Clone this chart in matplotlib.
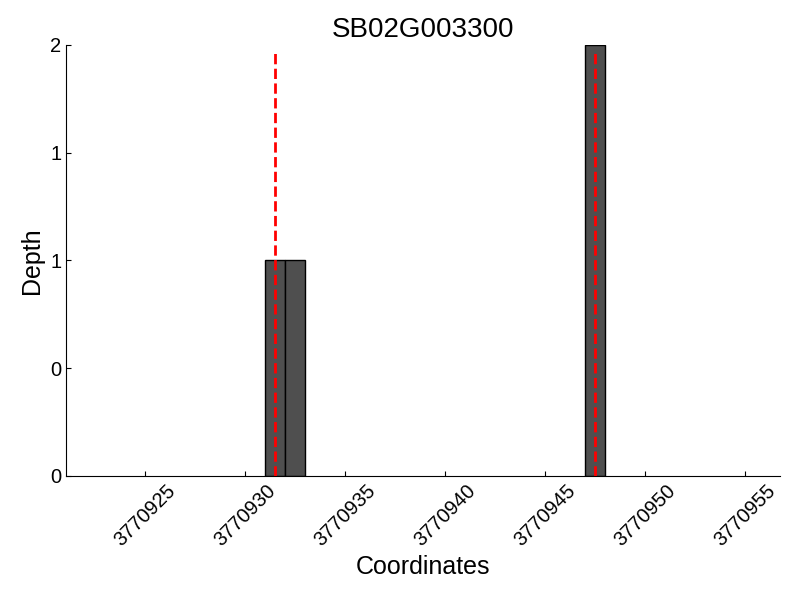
import matplotlib
matplotlib.use("Agg")
import matplotlib.pyplot as plt
from matplotlib.ticker import FormatStrFormatter

plt.rcParams['font.family'] = ['Liberation Sans', 'DejaVu Sans']

positions = [3770931, 3770932, 3770947]
depths = [1, 1, 2]
markers = [3770931.5, 3770947.5]
xticks = [3770925, 3770930, 3770935, 3770940, 3770945, 3770950, 3770955]
yticks = [0, 0.5, 1, 1.5, 2]

fig = plt.figure(figsize=(8, 6), dpi=100)
ax = fig.add_axes([0.0825, 0.2067, 0.8925, 0.7183])
ax.bar(positions, depths, width=1, align='edge', color='#4f4f4f', edgecolor='black', linewidth=1, zorder=2)
for m in markers:
    ax.axvline(m, ymin=0, ymax=0.985, color='red', linestyle='--', linewidth=2, zorder=3)

ax.set_xlim(3770921.05, 3770956.75)
ax.set_ylim(0, 2)
ax.set_xticks(xticks)
ax.set_xticklabels([str(x) for x in xticks], rotation=45, fontsize=14.5)
ax.set_yticks(yticks)
ax.yaxis.set_major_formatter(FormatStrFormatter('%d'))
ax.tick_params(axis='y', labelsize=14.5)
ax.tick_params(direction='in')
ax.spines['top'].set_visible(False)
ax.spines['right'].set_visible(False)
ax.set_xlabel('Coordinates', fontsize=18)
ax.set_ylabel('Depth', fontsize=18)
ax.set_title('SB02G003300', fontsize=20)
fig.savefig('out.png', dpi=100)
